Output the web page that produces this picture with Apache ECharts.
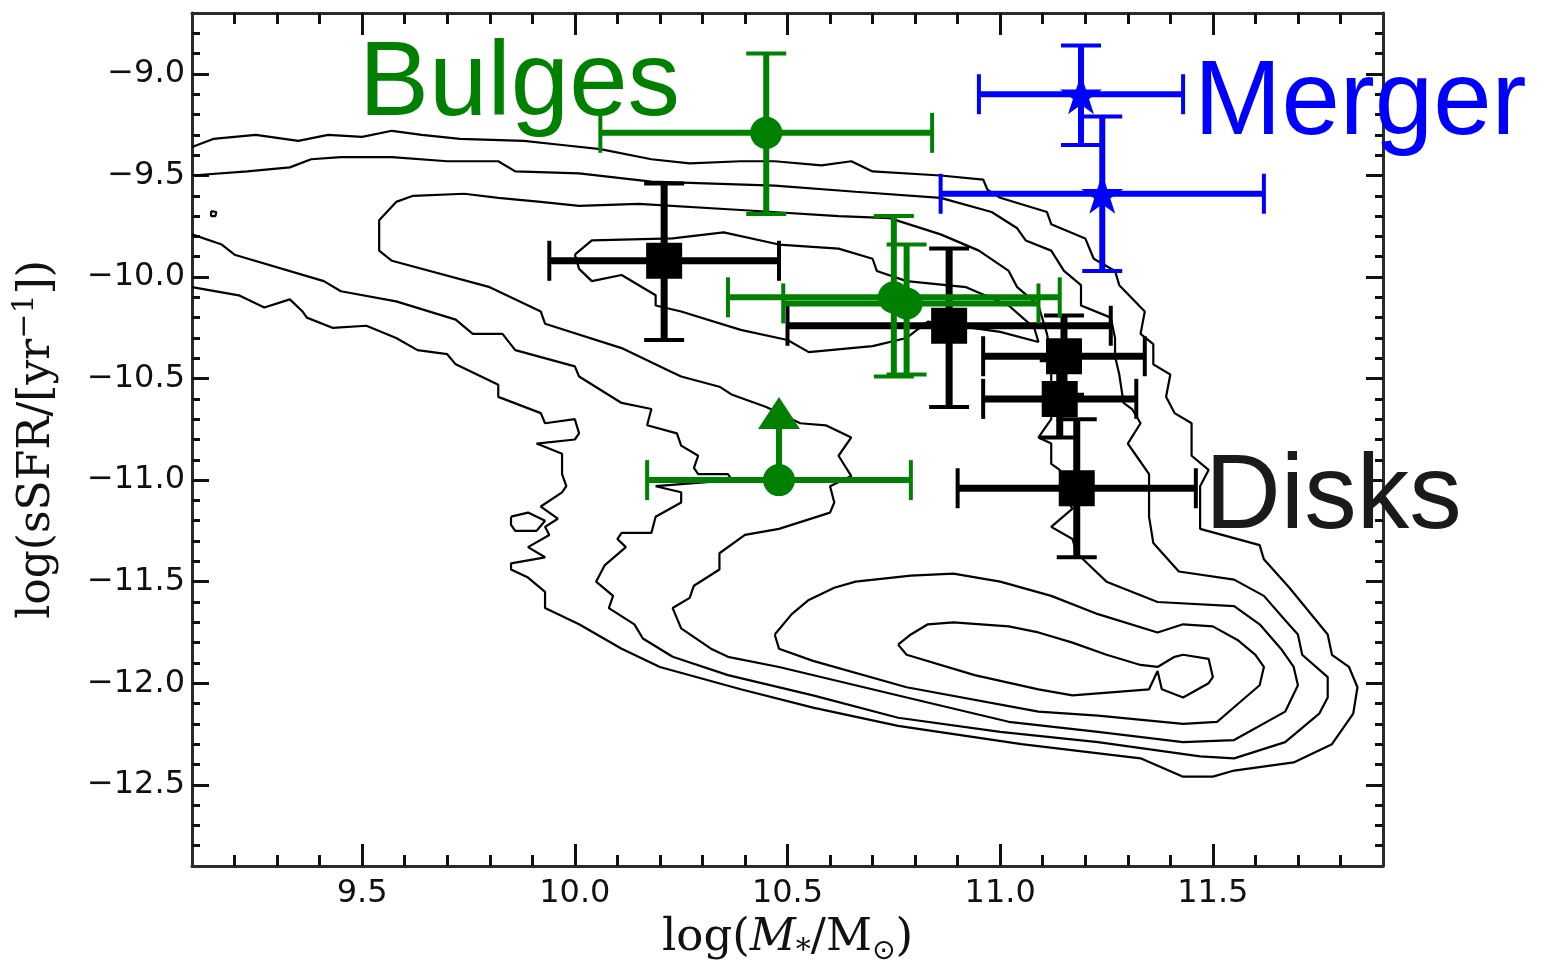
<!DOCTYPE html>
<html><head><meta charset="utf-8">
<script src="https://cdn.jsdelivr.net/npm/echarts@6/dist/echarts.min.js"></script>
<style>html,body{margin:0;padding:0;background:#fff}#c{width:1541px;height:971px}</style>
</head><body><div id="c"></div>
<script>
// ---- axes ----
const xMajor = [9.5, 10, 10.5, 11, 11.5];
const xMinor = [9.2,9.3,9.4,9.6,9.7,9.8,9.9,10.1,10.2,10.3,10.4,10.6,10.7,10.8,10.9,11.1,11.2,11.3,11.4,11.6,11.7,11.8];
const yMajor = [-12.5, -12, -11.5, -11, -10.5, -10, -9.5, -9];
const yMinor = [-12.8,-12.7,-12.6,-12.4,-12.3,-12.2,-12.1,-11.9,-11.8,-11.7,-11.6,-11.4,-11.3,-11.2,-11.1,-10.9,-10.8,-10.7,-10.6,-10.4,-10.3,-10.2,-10.1,-9.9,-9.8,-9.7,-9.6,-9.4,-9.3,-9.2,-9.1,-8.9,-8.8];

// ---- points: [x, y, xlo, xhi, ylo, yhi] ----
const disks = [
  [10.21, -9.92, 9.94, 10.48, -10.31, -9.54],
  [10.88, -10.24, 10.50, 11.26, -10.64, -9.86],
  [11.15, -10.39, 10.96, 11.34, -10.58, -10.19],
  [11.14, -10.60, 10.96, 11.32, -10.79, -10.41],
  [11.18, -11.04, 10.90, 11.46, -11.38, -10.70]
];
const bulges = [
  [10.45, -9.29, 10.06, 10.84, -9.69, -8.90],
  [10.75, -10.10, 10.36, 11.14, -10.49, -9.70],
  [10.78, -10.13, 10.49, 11.09, -10.48, -9.84]
];
// lower-limit point: [x, y, xlo, xhi, arrowTip]
const bulgeLimit = [[10.48, -11.00, 10.17, 10.79, -10.67]];
const merger = [
  [11.19, -9.10, 10.95, 11.43, -9.35, -8.86],
  [11.24, -9.59, 10.86, 11.62, -9.97, -9.21]
];

// ---- contours (x, y) ----
const contour1 = [[9.10,-9.36],[9.15,-9.32],[9.25,-9.30],[9.35,-9.33],[9.42,-9.30],[9.50,-9.31],[9.57,-9.28],[9.64,-9.30],[9.73,-9.32],[9.88,-9.33],[9.97,-9.35],[10.06,-9.37],[10.18,-9.42],[10.27,-9.44],[10.39,-9.43],[10.47,-9.43],[10.58,-9.45],[10.65,-9.43],[10.70,-9.48],[10.86,-9.50],[10.96,-9.52],[10.97,-9.57],[11.00,-9.61],[11.11,-9.68],[11.12,-9.74],[11.20,-9.81],[11.22,-9.91],[11.27,-9.97],[11.28,-10.04],[11.34,-10.17],[11.33,-10.28],[11.36,-10.33],[11.36,-10.43],[11.40,-10.48],[11.39,-10.59],[11.41,-10.67],[11.45,-10.72],[11.45,-10.88],[11.49,-10.95],[11.47,-11.03],[11.47,-11.24],[11.61,-11.32],[11.62,-11.39],[11.68,-11.53],[11.77,-11.76],[11.78,-11.86],[11.82,-11.92],[11.84,-12.02],[11.83,-12.15],[11.78,-12.30],[11.69,-12.39],[11.55,-12.43],[11.50,-12.46],[11.43,-12.46],[11.33,-12.37],[11.05,-12.30],[10.76,-12.21],[10.56,-12.12],[10.39,-12.03],[10.20,-11.92],[10.11,-11.83],[10.01,-11.71],[9.93,-11.63],[9.93,-11.55],[9.89,-11.48],[9.85,-11.44],[9.85,-11.41],[9.93,-11.38],[9.89,-11.33],[9.94,-11.27],[9.93,-11.23],[9.96,-11.19],[9.92,-11.13],[9.97,-11.06],[9.98,-11.03],[9.97,-10.97],[9.97,-10.87],[9.91,-10.82],[10.00,-10.80],[10.01,-10.77],[10.00,-10.70],[9.93,-10.72],[9.92,-10.67],[9.82,-10.59],[9.82,-10.53],[9.72,-10.43],[9.70,-10.38],[9.63,-10.36],[9.58,-10.30],[9.51,-10.24],[9.43,-10.25],[9.37,-10.20],[9.36,-10.17],[9.33,-10.11],[9.27,-10.15],[9.21,-10.09],[9.10,-10.05]];
const contour1b = [[9.85,-11.18],[9.89,-11.16],[9.93,-11.20],[9.91,-11.25],[9.86,-11.25],[9.85,-11.22],[9.85,-11.18]];
const contour2 = [[9.10,-9.50],[9.23,-9.48],[9.33,-9.46],[9.38,-9.42],[9.45,-9.41],[9.57,-9.41],[9.70,-9.43],[9.82,-9.43],[9.86,-9.48],[10.01,-9.49],[10.18,-9.53],[10.47,-9.55],[10.66,-9.58],[10.86,-9.61],[10.98,-9.68],[11.04,-9.76],[11.06,-9.82],[11.12,-9.87],[11.15,-9.97],[11.19,-10.04],[11.19,-10.14],[11.26,-10.20],[11.27,-10.30],[11.27,-10.33],[11.27,-10.39],[11.28,-10.48],[11.29,-10.62],[11.31,-10.65],[11.33,-10.72],[11.30,-10.82],[11.32,-10.88],[11.35,-10.97],[11.35,-11.14],[11.35,-11.18],[11.36,-11.31],[11.39,-11.38],[11.42,-11.45],[11.55,-11.49],[11.62,-11.57],[11.67,-11.69],[11.70,-11.76],[11.71,-11.86],[11.77,-11.97],[11.77,-12.07],[11.75,-12.15],[11.67,-12.29],[11.55,-12.37],[11.47,-12.36],[11.23,-12.29],[11.00,-12.24],[10.76,-12.17],[10.56,-12.06],[10.36,-11.96],[10.23,-11.87],[10.16,-11.78],[10.14,-11.71],[10.08,-11.63],[10.09,-11.57],[10.05,-11.50],[10.07,-11.42],[10.12,-11.33],[10.10,-11.29],[10.11,-11.26],[10.18,-11.26],[10.19,-11.18],[10.25,-11.11],[10.25,-11.06],[10.19,-11.03],[10.37,-11.00],[10.36,-10.97],[10.29,-10.97],[10.28,-10.94],[10.29,-10.88],[10.25,-10.83],[10.24,-10.77],[10.17,-10.73],[10.18,-10.65],[10.11,-10.62],[10.01,-10.49],[10.00,-10.44],[9.86,-10.36],[9.83,-10.28],[9.76,-10.28],[9.72,-10.21],[9.58,-10.12],[9.45,-10.07],[9.41,-10.02],[9.20,-9.89],[9.17,-9.84],[9.10,-9.79]];
const contour3 = [[9.54,-9.79],[9.54,-9.72],[9.58,-9.63],[9.62,-9.60],[9.74,-9.59],[9.82,-9.61],[9.92,-9.63],[10.01,-9.65],[10.15,-9.64],[10.39,-9.67],[10.62,-9.70],[10.74,-9.71],[10.86,-9.79],[10.95,-9.87],[11.02,-9.97],[11.04,-10.05],[11.09,-10.14],[11.11,-10.28],[11.12,-10.39],[11.12,-10.59],[11.12,-10.70],[11.09,-10.79],[11.12,-10.82],[11.12,-10.92],[11.14,-10.95],[11.15,-11.08],[11.17,-11.14],[11.12,-11.23],[11.17,-11.29],[11.18,-11.36],[11.22,-11.44],[11.25,-11.50],[11.37,-11.60],[11.55,-11.62],[11.61,-11.71],[11.66,-11.83],[11.69,-11.92],[11.70,-12.01],[11.67,-12.14],[11.55,-12.28],[11.43,-12.29],[11.23,-12.24],[11.02,-12.19],[10.80,-12.08],[10.48,-11.92],[10.36,-11.87],[10.32,-11.83],[10.25,-11.73],[10.23,-11.63],[10.27,-11.58],[10.28,-11.52],[10.34,-11.44],[10.34,-11.36],[10.40,-11.27],[10.48,-11.24],[10.60,-11.16],[10.61,-11.11],[10.60,-11.03],[10.65,-10.98],[10.62,-10.88],[10.65,-10.79],[10.59,-10.73],[10.53,-10.72],[10.45,-10.64],[10.37,-10.58],[10.34,-10.54],[10.25,-10.49],[10.22,-10.46],[10.11,-10.35],[9.93,-10.23],[9.92,-10.17],[9.80,-10.05],[9.57,-9.92],[9.54,-9.87],[9.54,-9.79]];
const contour4a = [[10.00,-9.89],[10.04,-9.82],[10.23,-9.81],[10.35,-9.78],[10.48,-9.84],[10.62,-9.86],[10.70,-9.91],[10.71,-9.97],[10.78,-10.02],[10.92,-10.05],[11.02,-10.14],[11.08,-10.25],[11.09,-10.32],[11.00,-10.27],[10.83,-10.22],[10.78,-10.30],[10.70,-10.34],[10.55,-10.37],[10.50,-10.31],[10.39,-10.26],[10.25,-10.17],[10.19,-10.14],[10.19,-10.09],[10.11,-9.99],[10.04,-10.02],[10.01,-9.96],[10.00,-9.89]];
const contour4b = [[10.47,-11.76],[10.51,-11.66],[10.55,-11.59],[10.61,-11.53],[10.66,-11.50],[10.79,-11.47],[10.89,-11.46],[11.00,-11.50],[11.12,-11.57],[11.23,-11.66],[11.37,-11.75],[11.43,-11.71],[11.50,-11.72],[11.56,-11.79],[11.60,-11.86],[11.62,-11.92],[11.61,-12.01],[11.56,-12.10],[11.51,-12.19],[11.43,-12.20],[11.23,-12.16],[11.09,-12.14],[10.78,-12.02],[10.56,-11.89],[10.48,-11.83],[10.47,-11.76]];
const contour5 = [[10.76,-11.81],[10.79,-11.76],[10.83,-11.71],[10.89,-11.70],[11.02,-11.72],[11.09,-11.75],[11.17,-11.80],[11.25,-11.86],[11.33,-11.91],[11.37,-11.92],[11.41,-11.87],[11.43,-11.86],[11.49,-11.88],[11.50,-11.97],[11.49,-12.00],[11.43,-12.07],[11.38,-12.03],[11.37,-11.94],[11.35,-12.03],[11.17,-12.06],[11.09,-12.03],[10.94,-11.96],[10.78,-11.86],[10.76,-11.81]];
const contourDot = [[9.145,-9.675],[9.157,-9.68],[9.155,-9.70],[9.145,-9.70],[9.145,-9.675]];

const contours = [contour1, contour1b, contour2, contour3, contour4a, contour4b, contour5, contourDot];

const starPath = 'path://M100,0L122.45,69.1L195.1,69.1L136.33,111.8L158.8,180.9L100,138.2L41.2,180.9L63.67,111.8L4.9,69.1L77.55,69.1Z';

const fmt = v => (v < 0 ? '\u2212' : '') + Math.abs(v).toFixed(1);

function errBars(color, lw, capLw, cap) {
  return function (params, api) {
    const x = api.value(0), y = api.value(1);
    const a = api.coord([api.value(2), y]), b = api.coord([api.value(3), y]);
    const c = api.coord([x, api.value(4)]), d = api.coord([x, api.value(5)]);
    const s = { stroke: color, lineWidth: lw };
    const cs = { stroke: color, lineWidth: capLw };
    return { type: 'group', children: [
      { type: 'line', shape: { x1: a[0], y1: a[1], x2: b[0], y2: b[1] }, style: s },
      { type: 'line', shape: { x1: c[0], y1: c[1], x2: d[0], y2: d[1] }, style: s },
      { type: 'line', shape: { x1: a[0], y1: a[1] - cap, x2: a[0], y2: a[1] + cap }, style: cs },
      { type: 'line', shape: { x1: b[0], y1: b[1] - cap, x2: b[0], y2: b[1] + cap }, style: cs },
      { type: 'line', shape: { x1: c[0] - cap, y1: c[1], x2: c[0] + cap, y2: c[1] }, style: cs },
      { type: 'line', shape: { x1: d[0] - cap, y1: d[1], x2: d[0] + cap, y2: d[1] }, style: cs }
    ]};
  };
}
function limitBars(color, lw, capLw, cap) {
  return function (params, api) {
    const x = api.value(0), y = api.value(1);
    const a = api.coord([api.value(2), y]), b = api.coord([api.value(3), y]);
    const p = api.coord([x, y]), t = api.coord([x, api.value(4)]);
    const s = { stroke: color, lineWidth: lw };
    const cs = { stroke: color, lineWidth: capLw };
    return { type: 'group', children: [
      { type: 'line', shape: { x1: a[0], y1: a[1], x2: b[0], y2: b[1] }, style: s },
      { type: 'line', shape: { x1: p[0], y1: p[1], x2: t[0], y2: t[1] }, style: s },
      { type: 'line', shape: { x1: a[0], y1: a[1] - cap, x2: a[0], y2: a[1] + cap }, style: cs },
      { type: 'line', shape: { x1: b[0], y1: b[1] - cap, x2: b[0], y2: b[1] + cap }, style: cs }
    ]};
  };
}

const GREEN = '#008000', BLUE = '#0000ff', BLACK = '#000000';
const tickCol = '#111';
const frameCol = '#2a2a2a';

function xAx(pos, vals, len, showLabel, showLine, name) {
  return {
    type: 'value', position: pos, min: 9.1, max: 11.9, gridIndex: 0,
    splitLine: { show: false },
    axisLine: { show: showLine, onZero: false, lineStyle: { color: frameCol, width: 3 } },
    axisTick: { show: true, inside: true, customValues: vals, length: len, lineStyle: { color: tickCol, width: 3 } },
    axisLabel: showLabel ? { show: true, customValues: vals, formatter: fmt, margin: 12,
      fontFamily: 'DejaVu Sans', fontSize: 32, color: '#111' } : { show: false },
    name: name ? '{a|log(}{i|M}{s|*}{a|/M}{o|\u2299}{a|)}' : '',
    nameLocation: 'middle', nameGap: 44,
    nameTextStyle: { rich: {
      a: { fontFamily: 'DejaVu Serif', fontSize: 45, color: '#111', lineHeight: 56 },
      i: { fontFamily: 'DejaVu Serif', fontStyle: 'italic', fontSize: 45, color: '#111', lineHeight: 56 },
      s: { fontFamily: 'DejaVu Serif', fontStyle: 'italic', fontSize: 30, color: '#111', lineHeight: 34, verticalAlign: 'bottom' },
      o: { fontFamily: 'DejaVu Sans', fontSize: 28, color: '#111', lineHeight: 30, verticalAlign: 'bottom' }
    } }
  };
}
function yAx(pos, vals, len, showLabel, showLine, name) {
  return {
    type: 'value', position: pos, min: -12.9, max: -8.7, gridIndex: 0,
    splitLine: { show: false },
    axisLine: { show: showLine, onZero: false, lineStyle: { color: frameCol, width: 3 } },
    axisTick: { show: true, inside: true, customValues: vals, length: len, lineStyle: { color: tickCol, width: 3 } },
    axisLabel: showLabel ? { show: true, customValues: vals, formatter: fmt, margin: 7,
      fontFamily: 'DejaVu Sans', fontSize: 32, color: '#111' } : { show: false },
    name: name ? '{a|log(sSFR/[yr}{p|\u22121}{a|])}' : '',
    nameLocation: 'middle', nameGap: 126, nameRotate: 90,
    nameTextStyle: { rich: {
      a: { fontFamily: 'DejaVu Serif', fontSize: 44, color: '#111', lineHeight: 56 },
      p: { fontFamily: 'DejaVu Serif', fontSize: 30, color: '#111', lineHeight: 34, verticalAlign: 'top' }
    } }
  };
}

const series = [];
contours.forEach((c, i) => series.push({
  type: 'line', data: c, showSymbol: false, symbol: 'none', smooth: false, clip: true,
  lineStyle: { color: '#000', width: 2.2 }, silent: true, z: 1, animation: false
}));

series.push({ type: 'custom', data: disks, renderItem: errBars(BLACK, 7, 4, 20), z: 2, animation: false, silent: true });
series.push({ type: 'scatter', data: disks.map(r => [r[0], r[1]]), symbol: 'rect', symbolSize: 36,
  itemStyle: { color: BLACK, opacity: 1 }, z: 2, animation: false, silent: true });

series.push({ type: 'custom', data: bulges, renderItem: errBars(GREEN, 6, 4, 20), z: 3, animation: false, silent: true });
series.push({ type: 'custom', data: bulgeLimit, renderItem: limitBars(GREEN, 6, 4, 20), z: 3, animation: false, silent: true });
series.push({ type: 'scatter', data: bulges.map(r => [r[0], r[1]]).concat(bulgeLimit.map(r => [r[0], r[1]])),
  symbol: 'circle', symbolSize: 32, itemStyle: { color: GREEN, opacity: 1 }, z: 3, animation: false, silent: true });
series.push({ type: 'scatter', data: bulgeLimit.map(r => [r[0], r[4]]), symbol: 'triangle', symbolSize: [42, 32],
  itemStyle: { color: GREEN, opacity: 1 }, z: 3, animation: false, silent: true });

series.push({ type: 'custom', data: merger, renderItem: errBars(BLUE, 6, 4, 20), z: 4, animation: false, silent: true });
series.push({ type: 'scatter', data: merger.map(r => [r[0], r[1]]), symbol: starPath, symbolSize: [42, 40],
  itemStyle: { color: BLUE, opacity: 1 }, z: 4, animation: false, silent: true });

const chart = echarts.init(document.getElementById('c'), null, { renderer: 'canvas' });
chart.setOption({
  backgroundColor: '#ffffff',
  animation: false,
  grid: { left: 192, top: 13, width: 1191, height: 860, containLabel: false },
  xAxis: [
    xAx('bottom', xMajor, 22, true, true, true),
    xAx('bottom', xMinor, 11, false, false, false),
    xAx('top', xMajor, 22, false, true, false),
    xAx('top', xMinor, 11, false, false, false)
  ],
  yAxis: [
    yAx('left', yMajor, 17, true, true, true),
    yAx('left', yMinor, 8, false, false, false),
    yAx('right', yMajor, 17, false, true, false),
    yAx('right', yMinor, 8, false, false, false)
  ],
  series: series,
  graphic: [
    { type: 'text', left: 359, top: 34, z: 10, style: { text: 'Bulges', fill: GREEN, fontSize: 105, fontFamily: 'Liberation Sans' } },
    { type: 'text', left: 1194, top: 53, z: 10, style: { text: 'Merger', fill: BLUE, fontSize: 105, fontFamily: 'Liberation Sans' } },
    { type: 'text', left: 1205, top: 447, z: 10, style: { text: 'Disks', fill: '#1a1a1a', fontSize: 105, fontFamily: 'Liberation Sans' } }
  ]
});
</script></body></html>
